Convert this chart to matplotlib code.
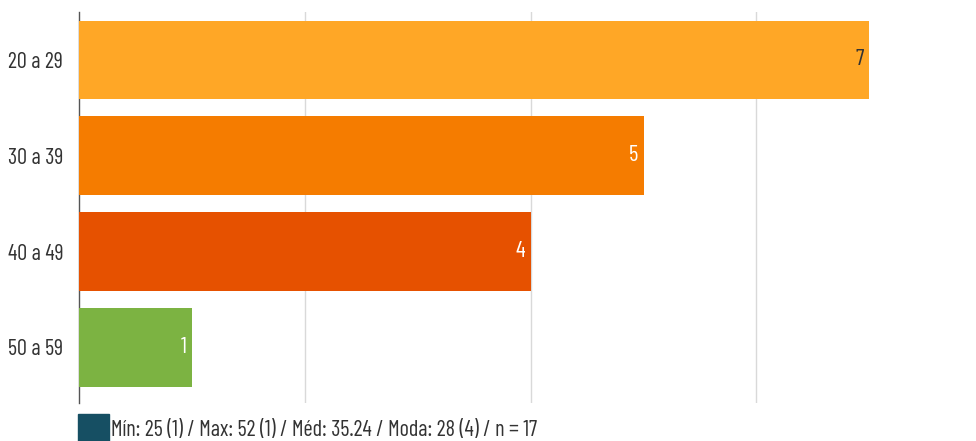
import matplotlib
matplotlib.use('Agg')
import matplotlib.pyplot as plt
import matplotlib.patches as patches

plt.rcParams['font.family'] = ['Barlow Condensed', 'Roboto Condensed', 'DejaVu Sans']

# datos
categorias = ['20 a 29', '30 a 39', '40 a 49', '50 a 59']
valores = [7, 5, 4, 1]
colores = ['#FFA726', '#F57C00', '#E65100', '#7CB342']
color_etiqueta = ['#333333', 'white', 'white', 'white']
leyenda = 'Mín: 25 (1) / Max: 52 (1) / Méd: 35.24 / Moda: 28 (4) / n = 17'
color_leyenda = '#164F63'

fig = plt.figure(figsize=(9.76, 4.41), dpi=100)
ax = fig.add_axes([79 / 976, 38 / 441, 1 - 79 / 976, 391 / 441])

pos = list(range(len(categorias)))
ax.barh(pos, valores, height=0.82, color=colores, zorder=3)

# etiquetas de valor dentro de la barra
for p, v, c in zip(pos, valores, color_etiqueta):
    ax.text(v - 0.05, p, str(v), ha='right', va='center',
            fontsize=16.5, color=c, zorder=4)

ax.set_xlim(0, 897 / 112.9)
ax.set_ylim(3.58, -0.5)
ax.set_yticks(pos)
ax.set_yticklabels(categorias, fontsize=16, color='#333333')
ax.set_xticks([2, 4, 6])
ax.tick_params(axis='x', length=0, labelbottom=False)
ax.tick_params(axis='y', length=0, pad=11.5)
ax.grid(axis='x', color='#d9d9d9', linewidth=1, zorder=0)

for s in ['top', 'right', 'bottom']:
    ax.spines[s].set_visible(False)
ax.spines['left'].set_color('#555555')
ax.spines['left'].set_linewidth(1)

# leyenda inferior
fig.patches.append(patches.Rectangle((78 / 976, 0), 31 / 976, 27 / 441,
                                     transform=fig.transFigure,
                                     color=color_leyenda))
fig.text(111 / 976, 5 / 441, leyenda, ha='left', va='baseline',
         fontsize=16, color='#333333')

fig.savefig('out.png', dpi=100)
